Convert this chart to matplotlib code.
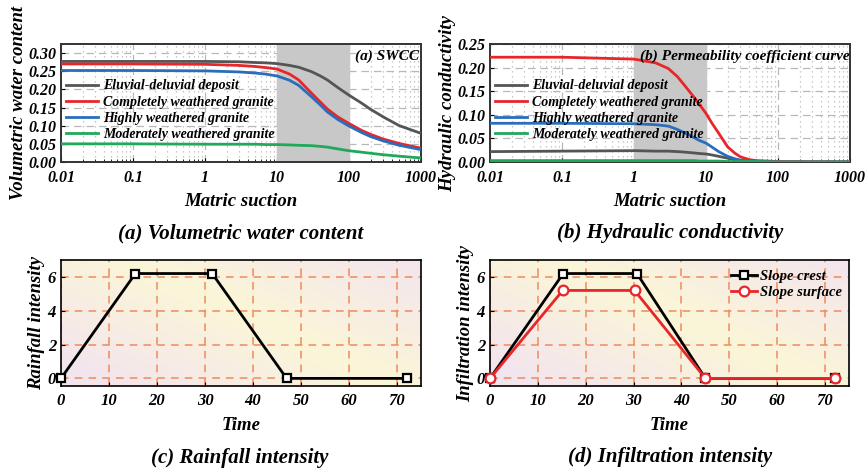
import numpy as np
import matplotlib
matplotlib.use('Agg')
import matplotlib.pyplot as plt

plt.rcParams['font.family'] = 'Liberation Serif'
plt.rcParams['font.weight'] = 'bold'
plt.rcParams['font.style'] = 'italic'
plt.rcParams['axes.labelweight'] = 'bold'

# ---- data ----
soil_names = ['Eluvial-deluvial deposit', 'Completely weathered granite',
              'Highly weathered granite', 'Moderately weathered granite']
soil_colors = ['#555555', '#e8262a', '#2a6ebb', '#22a85a']

suction_a = [0.01, 0.1, 1, 3, 5, 7, 10, 15, 20, 30, 40, 50, 70, 100, 150, 200, 300, 500, 1000]
swcc_eluvial = [0.277, 0.277, 0.277, 0.276, 0.274, 0.273, 0.271, 0.266, 0.261, 0.249, 0.237, 0.226,
                0.205, 0.184, 0.162, 0.145, 0.124, 0.100, 0.079]
swcc_complete = [0.270, 0.270, 0.269, 0.266, 0.263, 0.260, 0.256, 0.242, 0.226, 0.190, 0.165, 0.146,
                 0.124, 0.106, 0.087, 0.076, 0.063, 0.051, 0.038]
swcc_highly = [0.252, 0.252, 0.251, 0.248, 0.245, 0.242, 0.237, 0.225, 0.211, 0.180, 0.157, 0.138,
               0.117, 0.099, 0.081, 0.070, 0.058, 0.046, 0.034]
swcc_moderate = [0.050, 0.050, 0.049, 0.049, 0.049, 0.048, 0.048, 0.047, 0.046, 0.045, 0.043, 0.041,
                 0.036, 0.031, 0.027, 0.024, 0.020, 0.016, 0.011]

suction_b = [0.01, 0.1, 1, 2, 3, 4, 5, 7, 8, 10, 12, 15, 20, 25, 30, 40, 50, 100, 1000]
k_eluvial = [0.022, 0.023, 0.024, 0.023, 0.023, 0.022, 0.021, 0.019, 0.018, 0.017, 0.015, 0.012,
             0.008, 0.005, 0.003, 0.002, 0.001, 0.000, 0.000]
k_complete = [0.222, 0.222, 0.218, 0.210, 0.198, 0.181, 0.163, 0.135, 0.123, 0.103, 0.083, 0.061,
              0.032, 0.019, 0.011, 0.005, 0.003, 0.001, 0.000]
k_highly = [0.082, 0.082, 0.081, 0.079, 0.076, 0.069, 0.062, 0.051, 0.046, 0.040, 0.032, 0.022,
            0.012, 0.007, 0.004, 0.002, 0.001, 0.000, 0.000]
k_moderate = [0.003, 0.003, 0.003, 0.003, 0.003, 0.003, 0.003, 0.003, 0.002, 0.002, 0.002, 0.002,
              0.001, 0.001, 0.001, 0.001, 0.001, 0.000, 0.000]

rain_time = [0, 15.5, 31.5, 47, 72]
rain_int = [0, 6.2, 6.2, 0, 0]

crest_time = [0, 15.3, 30.7, 45, 72]
crest_int = [0, 6.2, 6.2, 0, 0]
surface_time = [0, 15.2, 30.2, 45, 72]
surface_int = [0, 5.2, 5.2, 0, 0]

W, H = 866, 473
fig = plt.figure(figsize=(W / 100, H / 100), dpi=100)


def px_axes(left, top, right, bottom):
    return fig.add_axes([left / W, 1 - bottom / H, (right - left) / W, (bottom - top) / H])


def style_log_axes(ax, ylim, yticks):
    ax.set_xscale('log')
    ax.set_xlim(0.01, 1000)
    ax.set_ylim(*ylim)
    ax.set_yticks(yticks)
    ax.set_yticklabels([f'{v:.2f}' for v in yticks])
    ax.set_xticks([0.01, 0.1, 1, 10, 100, 1000])
    ax.set_xticklabels(['0.01', '0.1', '1', '10', '100', '1000'])
    ax.set_axisbelow(True)
    ax.grid(True, which='major', color='#b8b8b8', lw=0.9, ls=(0, (6, 4)))
    ax.grid(True, which='minor', axis='x', color='#b8b8b8', lw=0.9, ls=(0, (1, 3)))
    ax.tick_params(which='both', direction='in', labelsize=11.5, length=3)
    ax.tick_params(axis='x', which='major', pad=6)
    ax.tick_params(which='minor', length=2)
    for s in ax.spines.values():
        s.set_color('#333333')
        s.set_linewidth(1.4)
    ax.set_xlabel('Matric suction', fontsize=13.5, labelpad=5)
    ax.yaxis.set_label_coords(-0.094, 0.5)


def soil_legend(ax):
    ax.legend(loc='upper left', bbox_to_anchor=(-0.01, 0.77), frameon=False, fontsize=10,
              borderpad=0.1, handlelength=2.3, handletextpad=0.4, labelspacing=0.22)


# (a) SWCC
ax1 = px_axes(61, 44, 421, 162)
ax1.axvspan(10, 100, color='#c8c8c8', zorder=1)
for ys, c, n in zip([swcc_eluvial, swcc_complete, swcc_highly, swcc_moderate], soil_colors, soil_names):
    ax1.plot(suction_a, ys, color=c, lw=2, label=n, zorder=3)
ax1.set_ylabel('Volumetric water content', fontsize=13.5)
style_log_axes(ax1, (0, 0.325), [0, 0.05, 0.10, 0.15, 0.20, 0.25, 0.30])
ax1.text(0.995, 0.95, '(a) SWCC', transform=ax1.transAxes, ha='right', va='top', fontsize=11, zorder=5)
soil_legend(ax1)
fig.text(241 / W, 1 - 233 / H, '(a) Volumetric water content', ha='center', va='center', fontsize=15)

# (b) permeability
ax2 = px_axes(490, 44, 850, 162)
ax2.axvspan(1, 10, color='#c8c8c8', zorder=1)
for ys, c, n in zip([k_eluvial, k_complete, k_highly, k_moderate], soil_colors, soil_names):
    ax2.plot(suction_b, ys, color=c, lw=2, label=n, zorder=3)
ax2.set_ylabel('Hydraulic conductivity', fontsize=13.5)
style_log_axes(ax2, (0, 0.25), [0, 0.05, 0.10, 0.15, 0.20, 0.25])
ax2.text(0.998, 0.95, '(b) Permeability coefficient curve', transform=ax2.transAxes,
         ha='right', va='top', fontsize=11, zorder=5)
soil_legend(ax2)
fig.text(670 / W, 1 - 233 / H, '(b) Hydraulic conductivity', ha='center', va='center', fontsize=15)


def gradient_bg(ax):
    # soft yellow band on a pink diagonal
    n = 60
    gx, gy = np.meshgrid(np.linspace(0, 1, n), np.linspace(0, 1, n))
    t = np.clip(1 - np.abs((gx * 0.8 + gy * 0.6) - 0.75) * 1.6, 0, 1)
    pink = np.array([0.955, 0.90, 0.93])
    yellow = np.array([0.985, 0.965, 0.845])
    img = pink[None, None, :] * (1 - t[..., None]) + yellow[None, None, :] * t[..., None]
    ax.imshow(img, extent=[0, 1, 0, 1], transform=ax.transAxes, origin='lower',
              aspect='auto', zorder=0, interpolation='bicubic')


def style_time_axes(ax, ylabel):
    ax.set_xlim(0, 75)
    ax.set_ylim(-0.45, 7)
    ax.set_xticks(range(0, 80, 10))
    ax.set_yticks([0, 2, 4, 6])
    ax.set_axisbelow(True)
    ax.grid(True, color='#f08a5d', lw=1.1, ls=(0, (5, 4)))
    ax.tick_params(direction='in', labelsize=12, length=3)
    ax.tick_params(axis='x', pad=5)
    for s in ax.spines.values():
        s.set_color('black')
        s.set_linewidth(1.2)
    ax.set_xlabel('Time', fontsize=13.5, labelpad=6)
    ax.set_ylabel(ylabel, fontsize=13.5)
    ax.yaxis.set_label_coords(-0.043, 0.5)


# (c) rainfall
ax3 = px_axes(61, 260, 421, 386)
gradient_bg(ax3)
ax3.plot(rain_time, rain_int, color='black', lw=2, marker='s', ms=6, mfc='white', mec='black',
         mew=1.6, zorder=3, clip_on=False)
style_time_axes(ax3, 'Rainfall intensity')
fig.text(240 / W, 1 - 458 / H, '(c) Rainfall intensity', ha='center', va='center', fontsize=15)

# (d) infiltration
ax4 = px_axes(490, 260, 849, 386)
gradient_bg(ax4)
ax4.plot(crest_time, crest_int, color='black', lw=2, marker='s', ms=6, mfc='white', mec='black',
         mew=1.6, zorder=3, clip_on=False, label='Slope crest')
ax4.plot(surface_time, surface_int, color='#e8262a', lw=2, marker='o', ms=7, mfc='white', mec='#e8262a',
         mew=1.6, zorder=4, clip_on=False, label='Slope surface')
style_time_axes(ax4, 'Infiltration intensity')
ax4.legend(loc='upper right', bbox_to_anchor=(1.01, 1.0), frameon=False, fontsize=10.5,
           borderpad=0.2, handlelength=1.8, handletextpad=0.2, labelspacing=0.15)
fig.text(670 / W, 1 - 457 / H, '(d) Infiltration intensity', ha='center', va='center', fontsize=15)

fig.savefig('out.png', dpi=100)
